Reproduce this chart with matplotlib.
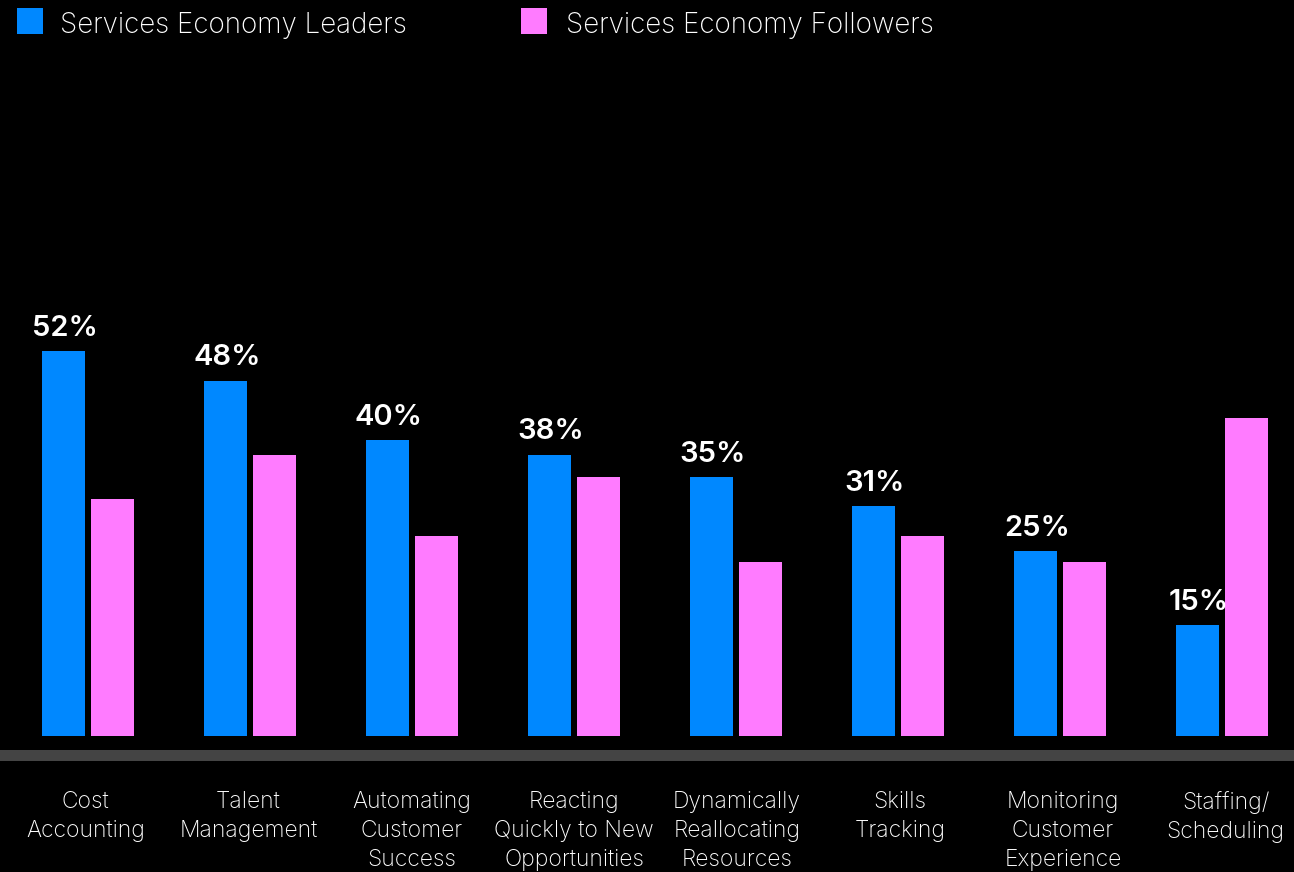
import numpy as np
import matplotlib.pyplot as plt
from matplotlib.patches import Rectangle

# survey results, share of respondents (%)
categories = ["Cost\nAccounting", "Talent\nManagement", "Automating\nCustomer\nSuccess",
              "Reacting\nQuickly to New\nOpportunities", "Dynamically\nReallocating\nResources",
              "Skills\nTracking", "Monitoring\nCustomer\nExperience", "Staffing/\nScheduling"]
leaders = [52, 48, 40, 38, 35, 31, 25, 15]
followers = [32, 38, 27, 35, 23.5, 27, 23.5, 43]

BLUE = "#0088ff"
PINK = "#ff7bff"
W, H = 1294, 872

plt.rcParams['font.family'] = ['Inter', 'DejaVu Sans']

fig = plt.figure(figsize=(W / 100, H / 100), dpi=100, facecolor="black")
ax = fig.add_axes([0, 136 / H, 1, 736 / H])
ax.set_facecolor("black")

x = np.arange(len(categories))
off = 24.5 / 162
bw = 43 / 162
ax.bar(x - off, leaders, bw, color=BLUE)
ax.bar(x + off, followers, bw, color=PINK)

for xi, v in zip(x, leaders):
    ax.annotate(f"{v}%", (xi - off, v), xytext=(1, 11), textcoords="offset points",
                ha="center", va="baseline", color="white", fontsize=21, fontweight="semibold")

ax.set_xlim(-88 / 162, (W - 88) / 162)
ax.set_ylim(0, 736 / 7.405)
ax.axis("off")

# grey rule under the bars
fig.add_artist(Rectangle((0, 1 - 761 / H), 1, 11 / H, transform=fig.transFigure,
                         color="#444444", lw=0))

# category names under the rule
for xi, name in zip(x, categories):
    px = 85.5 + xi * 162.9
    fig.text(px / W, 1 - 791 / H, name, ha="center", va="top", color="white",
             fontsize=16.5, fontweight="light", linespacing=1.4)

# legend
fig.add_artist(Rectangle((17 / W, 1 - 34 / H), 26 / W, 26 / H, transform=fig.transFigure,
                         color=BLUE, lw=0))
fig.text(60 / W, 1 - 33 / H, "Services Economy Leaders", color="white", fontsize=20,
         fontweight="light", va="baseline")
fig.add_artist(Rectangle((521 / W, 1 - 34 / H), 26 / W, 26 / H, transform=fig.transFigure,
                         color=PINK, lw=0))
fig.text(566 / W, 1 - 33 / H, "Services Economy Followers", color="white", fontsize=20,
         fontweight="light", va="baseline")

fig.savefig("out.png", dpi=100, facecolor="black")
